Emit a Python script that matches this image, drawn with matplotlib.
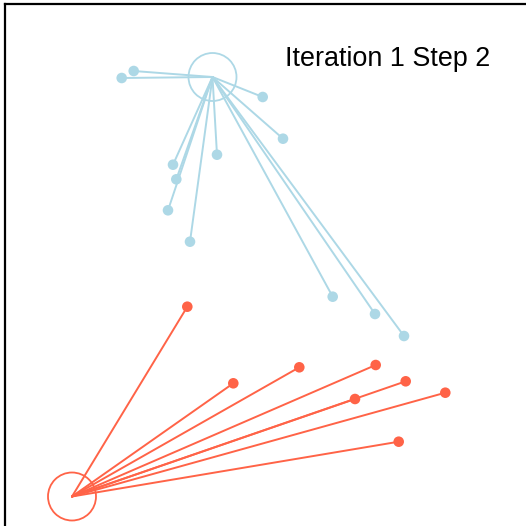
"""
K-means illustration: each point joined to its assigned centre
"""

import matplotlib
matplotlib.use("Agg")
import matplotlib.pyplot as plt
from matplotlib.patches import Circle

BLUE = "#add8e6"
RED = "#ff6347"

# cluster centres (x, y)
blue_centre = (212.5, 77.0)
red_centre = (72.0, 496.5)

# points assigned to each centre
blue_x = [121.7, 133.7, 262.7, 283.0, 217.0, 173.0, 176.3, 168.0, 190.0, 332.7, 375.0, 404.0]
blue_y = [78.0, 71.0, 97.0, 138.7, 154.7, 164.7, 179.3, 210.3, 241.7, 296.7, 314.0, 336.0]

red_x = [187.3, 233.3, 299.3, 375.7, 405.7, 355.0, 445.3, 398.7]
red_y = [306.7, 383.3, 367.3, 365.0, 381.3, 399.0, 392.7, 441.7]

title = "Iteration 1 Step 2"


def draw_cluster(ax, centre, xs, ys, color):
    for x, y in zip(xs, ys):
        ax.plot([centre[0], x], [centre[1], y], color=color, lw=1.4,
                solid_capstyle="round", zorder=2)
    ax.scatter(xs, ys, s=58, color=color, edgecolors="none", zorder=3)
    ax.add_patch(Circle(centre, 24, fill=False, edgecolor=color, lw=1.3, zorder=2))


fig = plt.figure(figsize=(5.26, 5.26), dpi=100)
W = 526.0
# frame runs off the right and bottom of the figure
ax = fig.add_axes([5 / W, -14 / W, 535 / W, 536 / W])
ax.set_xlim(5, 540)
ax.set_ylim(540, 4)
ax.set_xticks([])
ax.set_yticks([])
for side in ("left", "top"):
    ax.spines[side].set_linewidth(1.6)
    ax.spines[side].set_color("black")

draw_cluster(ax, blue_centre, blue_x, blue_y, BLUE)
draw_cluster(ax, red_centre, red_x, red_y, RED)

ax.text(388, 66, title, ha="center", va="baseline", fontsize=19.4,
        family="Liberation Sans", color="black")

fig.savefig("out.png", dpi=100)
